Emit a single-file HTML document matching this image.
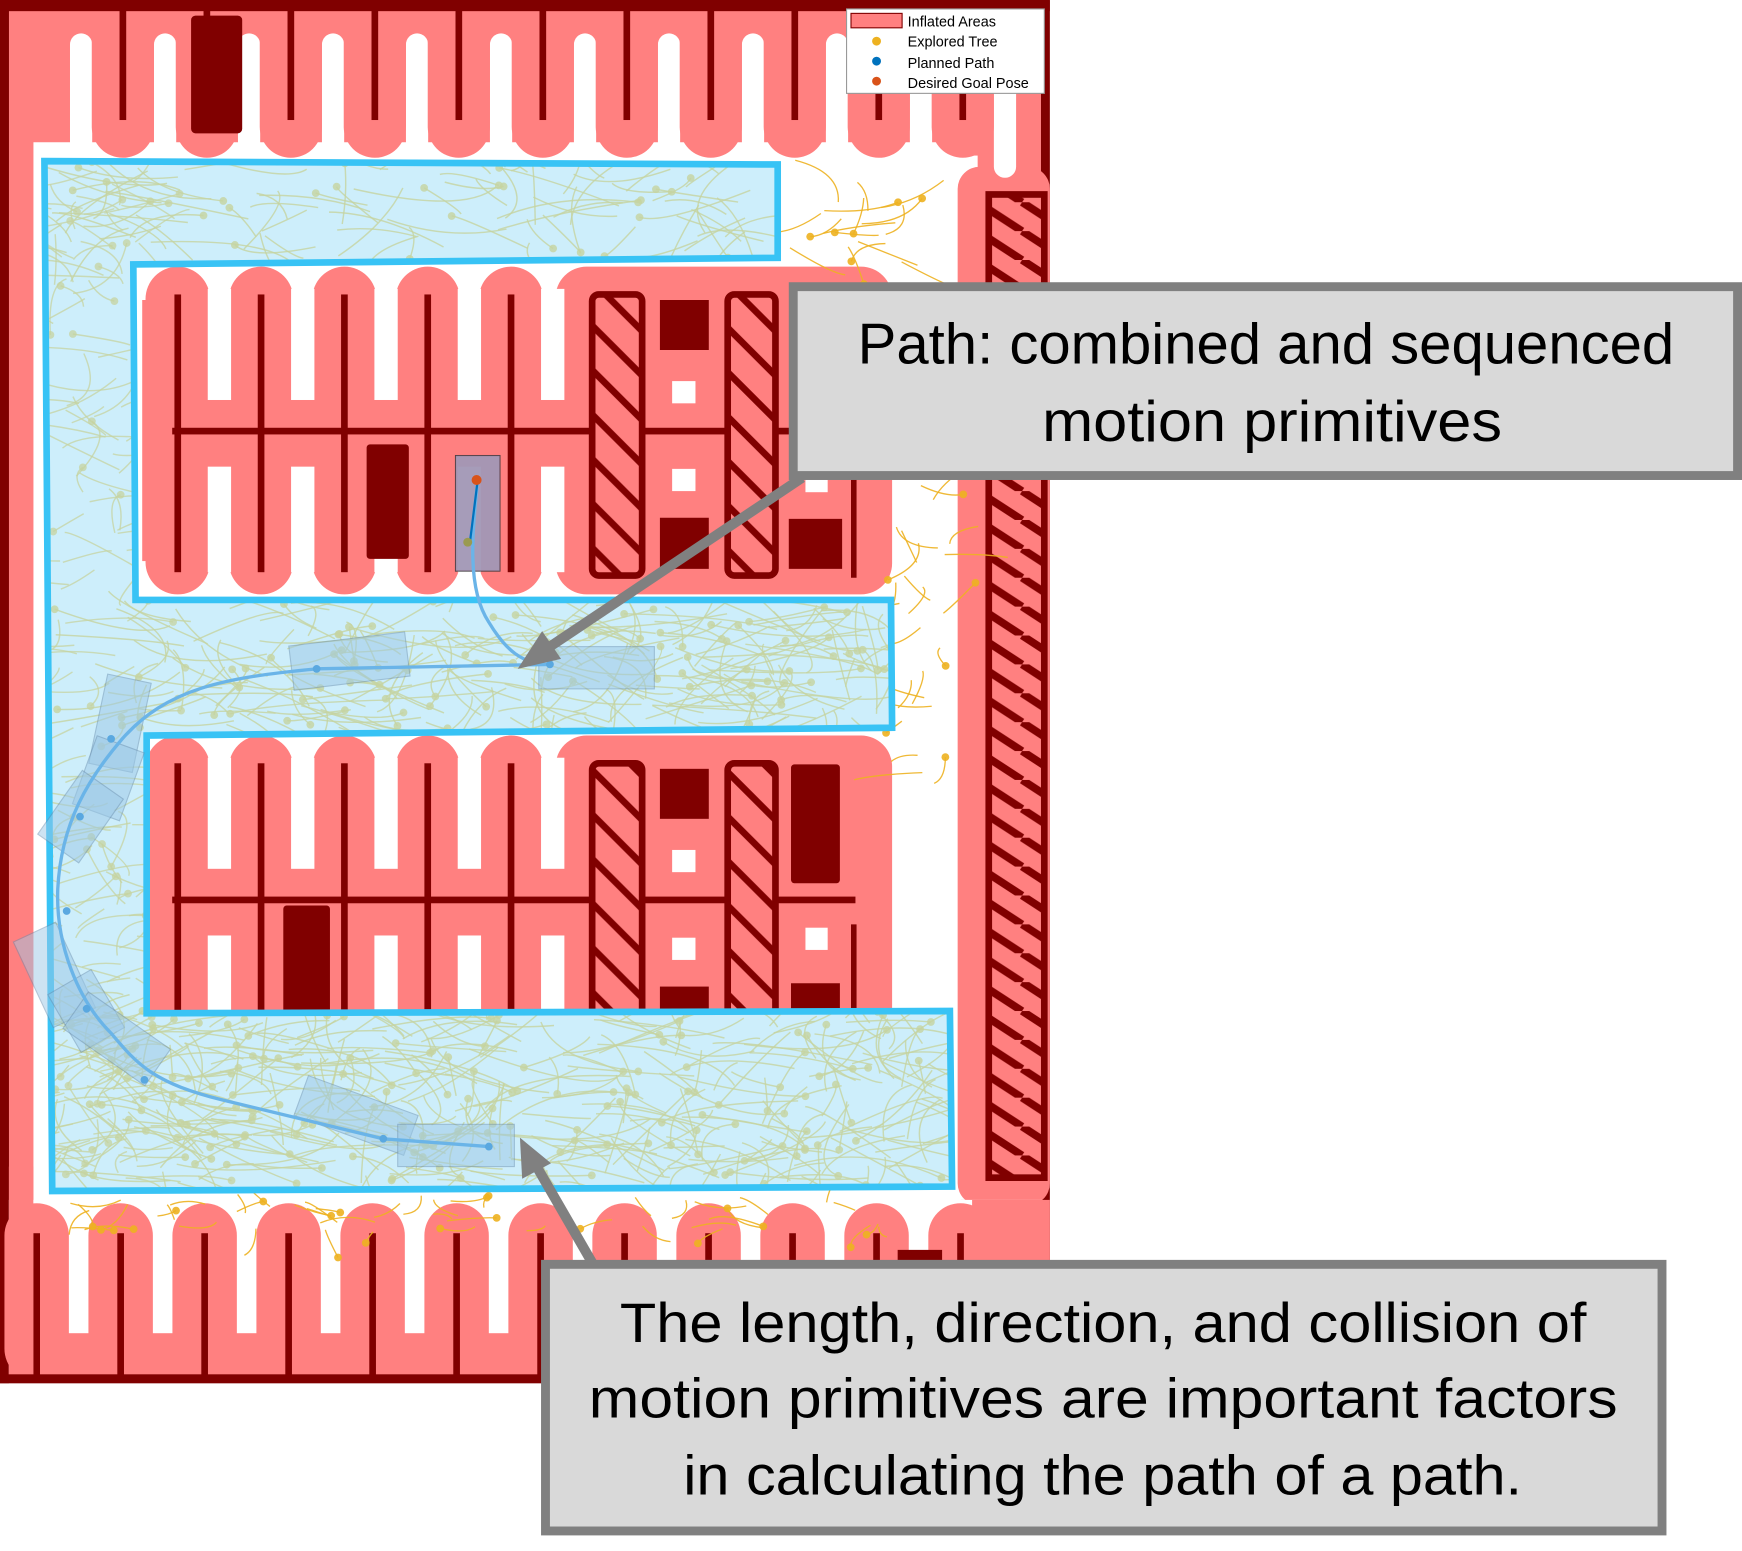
<!DOCTYPE html>
<html><head><meta charset="utf-8"><style>
html,body{margin:0;padding:0;background:#fff;width:1742px;height:1551px;overflow:hidden}
svg{display:block}
text{font-family:"Liberation Sans",sans-serif}
.cal{font-family:"Liberation Sans",sans-serif;fill:#000}
</style></head><body>
<svg id="s" width="1742" height="1551" viewBox="0 0 1568 1396" xmlns="http://www.w3.org/2000/svg">
<defs>
<pattern id="hatchA" patternUnits="userSpaceOnUse" width="40" height="40">
<rect width="40" height="40" fill="#ff8080"/>
<path d="M-10,-10 L50,50 M-10,30 L10,50 M30,-10 L50,10" stroke="#800000" stroke-width="6"/>
</pattern>
<pattern id="hatchC" patternUnits="userSpaceOnUse" width="40" height="26">
<rect width="40" height="26" fill="#ff8080"/>
<path d="M0,0 L40,26 M-40,0 L0,26 M40,0 L80,26" stroke="#800000" stroke-width="7"/>
</pattern>
<clipPath id="cp"><polygon points="40,145 700,148 700,232 120,238 122,540 802,540 803,655 132,662 132,912 855,910 857,1068 47,1072"/></clipPath>
</defs>
<g id="map"></g>
<g id="tree"></g>
<g id="boxes"></g>
<g id="gtree" clip-path="url(#cp)"></g>
<g id="boxline"></g>
<g id="path"></g>
<g>
<rect x="762" y="8" width="178" height="76" fill="#fff" stroke="#999" stroke-width="1"/>
<rect x="766" y="12" width="46" height="13" fill="#ff8080" stroke="#800000" stroke-width="1"/>
<text x="817" y="24" font-size="13">Inflated Areas</text>
<circle cx="789" cy="37" r="4" fill="#edb120"/>
<text x="817" y="42" font-size="13">Explored Tree</text>
<circle cx="789" cy="55" r="4" fill="#0072bd"/>
<text x="817" y="61" font-size="13">Planned Path</text>
<circle cx="789" cy="73" r="4" fill="#d95319"/>
<text x="817" y="79" font-size="13">Desired Goal Pose</text>
</g>
<g fill="#808080" stroke="#808080">
<line x1="722" y1="430" x2="495" y2="582" stroke-width="9"/>
<polygon points="466,602 488,568 505,593" stroke="none"/>
<line x1="535" y1="1140" x2="483" y2="1050" stroke-width="9"/>
<polygon points="468,1024 496,1047 470,1061" stroke="none"/>
</g>
<rect x="714" y="258" width="850" height="170" fill="#d9d9d9" stroke="#808080" stroke-width="8"/>
<text class="cal" x="772" y="327" font-size="52" textLength="735" lengthAdjust="spacingAndGlyphs">Path: combined and sequenced</text>
<text class="cal" x="938" y="397" font-size="52" textLength="414" lengthAdjust="spacingAndGlyphs">motion primitives</text>
<rect x="491" y="1138" width="1005" height="240" fill="#d9d9d9" stroke="#808080" stroke-width="8"/>
<text class="cal" x="558" y="1208" font-size="50" textLength="870" lengthAdjust="spacingAndGlyphs">The length, direction, and collision of</text>
<text class="cal" x="530" y="1276" font-size="50" textLength="926" lengthAdjust="spacingAndGlyphs">motion primitives are important factors</text>
<text class="cal" x="615" y="1345" font-size="50" textLength="755" lengthAdjust="spacingAndGlyphs">in calculating the path of a path.</text>
</svg>
<script>
const NS="http://www.w3.org/2000/svg";
function el(p,t,a){const e=document.createElementNS(NS,t);for(const k in a)e.setAttribute(k,a[k]);p.appendChild(e);return e;}
const map=document.getElementById('map');
const P="#ff8080",D="#800000",W="#fff";
el(map,'rect',{x:0,y:0,width:945,height:1245,fill:D});
el(map,'rect',{x:8,y:8,width:929,height:1229,fill:P});
el(map,'rect',{x:30,y:128,width:835,height:955,fill:W});
el(map,'rect',{x:800,y:140,width:80,height:940,fill:W});
el(map,'rect',{x:862,y:150,width:83,height:935,rx:20,fill:P});
el(map,'rect',{x:890,y:175,width:50,height:885,fill:"url(#hatchC)",stroke:D,"stroke-width":6});
// top comb
for(let i=0;i<12;i++){const cx=35+i*75.6;
 if(cx<875){el(map,'rect',{x:cx+28,y:30,width:20,height:130,rx:10,fill:W});}
}
for(let i=0;i<12;i++){const cx=35+i*75.6;if(cx>40&&cx<930)el(map,'rect',{x:cx-28,y:10,width:56,height:132,rx:28,fill:P});}
for(let i=0;i<12;i++){const cx=35+i*75.6;if(cx>40&&cx<930)el(map,'rect',{x:cx-3,y:8,width:6,height:100,fill:D});}
el(map,'rect',{x:172,y:14,width:46,height:106,rx:4,fill:D});
el(map,'rect',{x:8,y:8,width:22,height:1229,fill:P});
el(map,'rect',{x:0,y:0,width:8,height:1245,fill:D});
el(map,'rect',{x:0,y:0,width:945,height:10,fill:D});
// bottom comb
el(map,'rect',{x:8,y:1080,width:930,height:160,fill:W});
for(let i=0;i<12;i++){const cx=33+i*75.6;if(cx<880)el(map,'rect',{x:cx-29,y:1083,width:58,height:160,rx:29,fill:P});}
el(map,'rect',{x:8,y:1200,width:930,height:40,fill:P});
for(let i=0;i<12;i++){const cx=33+i*75.6;if(cx<880)el(map,'rect',{x:cx-3,y:1110,width:6,height:130,fill:D});}
el(map,'rect',{x:8,y:1050,width:22,height:190,fill:P});
el(map,'rect',{x:875,y:1080,width:70,height:160,fill:P});
el(map,'rect',{x:0,y:1237,width:945,height:8,fill:D});
el(map,'rect',{x:808,y:1125,width:40,height:15,fill:D});
function block(y0){
 const h=295;
 const cs=[160,235,310,385,460];
 el(map,'rect',{x:500,y:y0,width:303,height:h,rx:28,fill:P});
 el(map,'rect',{x:128,y:y0+30,width:400,height:h-60,fill:P});
 for(let i=0;i<5;i++){el(map,'rect',{x:cs[i]-29,y:y0,width:58,height:h,rx:29,fill:P});}
 for(let i=0;i<5;i++){const gx=cs[i]+27;el(map,'rect',{x:gx,y:y0+20,width:21,height:100,fill:W});}
 for(let i=0;i<5;i++){const gx=cs[i]+27;el(map,'rect',{x:gx,y:y0+180,width:21,height:95,fill:W});}
 for(let i=0;i<5;i++){el(map,'rect',{x:cs[i]-3,y:y0+25,width:6,height:250,fill:D});}
 el(map,'rect',{x:155,y:y0+145,width:615,height:6,fill:D});
 el(map,'rect',{x:533,y:y0+25,width:45,height:253,rx:6,fill:"url(#hatchA)",stroke:D,"stroke-width":6});
 el(map,'rect',{x:655,y:y0+25,width:43,height:253,rx:6,fill:"url(#hatchA)",stroke:D,"stroke-width":6});
 el(map,'rect',{x:594,y:y0+30,width:44,height:45,fill:D});
 el(map,'rect',{x:594,y:y0+226,width:44,height:46,fill:D});
 el(map,'rect',{x:605,y:y0+103,width:21,height:20,fill:W});
 el(map,'rect',{x:605,y:y0+182,width:21,height:20,fill:W});
 el(map,'rect',{x:766,y:y0+170,width:5,height:110,fill:D});
}
block(240);block(662);
el(map,'rect',{x:330,y:400,width:38,height:103,rx:3,fill:D});
el(map,'rect',{x:710,y:467,width:48,height:45,fill:D});
el(map,'rect',{x:725,y:425,width:20,height:18,fill:W});
el(map,'rect',{x:255,y:815,width:42,height:103,rx:3,fill:D});
el(map,'rect',{x:712,y:688,width:44,height:107,rx:3,fill:D});
el(map,'rect',{x:725,y:835,width:20,height:20,fill:W});
el(map,'rect',{x:712,y:885,width:44,height:40,fill:D});
el(map,'rect',{x:130,y:912,width:670,height:60,rx:25,fill:"#cfc8dc"});
el(map,'rect',{x:410,y:410,width:40,height:104,fill:"#a4c4e0",stroke:"#333","stroke-width":1,opacity:0.9});
el(map,'rect',{x:410,y:410,width:40,height:104,fill:"#a07090",opacity:0.5});

let sd=12345;function r(){sd=(sd*1103515245+12345)%2147483648;return sd/2147483648;}
function curves(tr,n,x0,y0,w,h,col,op,len,sw){
 for(let i=0;i<n;i++){const x=x0+r()*w,y=y0+r()*h;const a=r()*6.28;const L=len*(0.5+r());
  const x2=x+Math.cos(a)*L,y2=y+Math.sin(a)*L*0.5;const cx=(x+x2)/2+(r()-0.5)*L*0.6,cy=(y+y2)/2+(r()-0.5)*L*0.4;
  el(tr,'path',{d:`M${x},${y} Q${cx},${cy} ${x2},${y2}`,stroke:col,"stroke-width":sw||1.2,fill:"none",opacity:op});
  if(r()<0.5)el(tr,'circle',{cx:x2,cy:y2,r:3.5,fill:col,opacity:op});}
}
const tr=document.getElementById('tree');
curves(tr,40,805,170,50,540,"#edb120",0.9,50);
curves(tr,45,60,1080,780,30,"#edb120",0.9,35);
curves(tr,15,710,175,90,50,"#edb120",0.9,60);
const bx=document.getElementById('boxes');
const poly="40,145 700,148 700,232 120,238 122,540 802,540 803,655 132,662 132,912 855,910 857,1068 47,1072";
el(bx,'polygon',{points:poly,fill:"#cdeefb"});
const gt=document.getElementById('gtree');
curves(gt,90,45,150,650,80,"#c5d3a0",0.8,100,1.3);
curves(gt,180,45,150,80,920,"#c5d3a0",0.75,70,1.3);
curves(gt,230,130,545,665,110,"#c5d3a0",0.8,100,1.3);
curves(gt,380,50,915,800,150,"#c5d3a0",0.8,100,1.3);
el(document.getElementById('boxline'),'polygon',{points:poly,fill:"none",stroke:"#38c3f5","stroke-width":6});
const pg=document.getElementById('path');
const rects=[[262,575,105,40,-7],[485,582,104,38,0],[88,610,40,82,12],[75,668,45,65,20],[50,700,45,70,35],[28,835,42,85,-25],[55,880,45,60,-30],[60,915,90,40,35],[268,985,105,38,20],[358,1012,105,38,0]];
rects.forEach(([x,y,w,h,a])=>el(pg,'rect',{x,y,width:w,height:h,transform:`rotate(${a} ${x+w/2} ${y+h/2})`,fill:"#9cc8e6",opacity:0.5,stroke:"#6a8fb0","stroke-width":1}));
el(pg,'path',{d:"M430,432 C425,480 420,530 440,560 C455,585 470,598 495,598 L285,602 C200,610 150,620 110,665 C80,700 55,740 52,800 C50,850 70,900 100,930 C125,960 140,975 200,990 L345,1025 L440,1032",stroke:"#6ab4e8","stroke-width":3,fill:"none"});
el(pg,'path',{d:"M430,432 L423,488",stroke:"#0072bd","stroke-width":2,fill:"none"});
[[285,602],[495,598],[100,665],[72,735],[60,820],[78,908],[130,972],[345,1025],[440,1032]].forEach(([x,y])=>el(pg,'circle',{cx:x,cy:y,r:3.5,fill:"#5aa8e0"}));
el(pg,'circle',{cx:429,cy:432,r:4.5,fill:"#d95319"});
el(pg,'circle',{cx:421,cy:488,r:4,fill:"#9a9a50"});
</script>
</body></html>
